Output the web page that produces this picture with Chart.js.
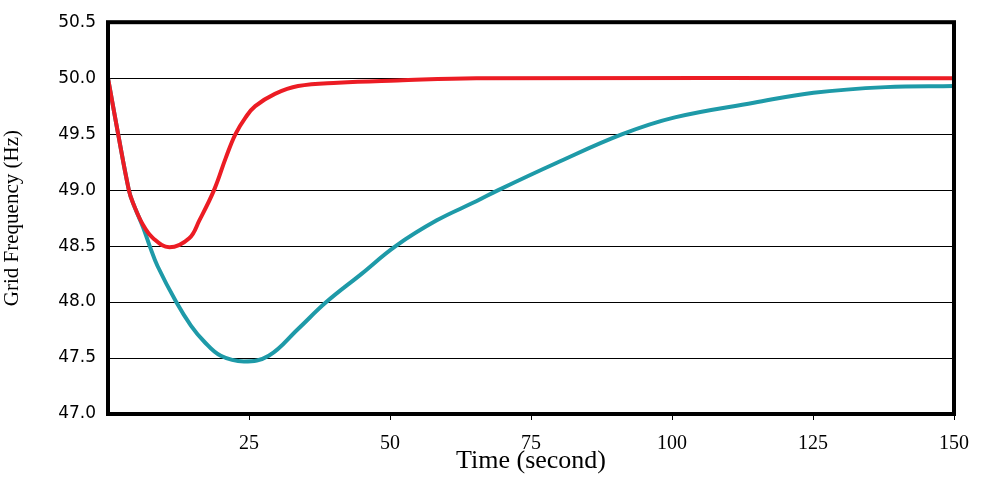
<!DOCTYPE html>
<html lang="en">
<head>
  <meta charset="UTF-8">
  <title>Grid Frequency</title>
  <script src="https://cdn.jsdelivr.net/npm/chart.js"></script>
  <style>
    html, body { margin: 0; padding: 0; background: #fff; }
    #wrap { width: 981px; height: 477px; }
  </style>
</head>
<body>
  <div id="wrap">
    <canvas id="freqChart" width="981" height="477"></canvas>
  </div>

  <script>
    // red curve (fast recovery)
    const fastTime = [0, 1.8, 3.7, 4.4, 6.2, 8.0, 10.9, 14.4, 16.2, 18.8, 20.9, 22.6, 24.4, 26.1, 29.6, 33.7, 40.8, 51.3, 65.3, 150];
    const fastFreq = [50.0, 49.5, 49.0, 48.89, 48.69, 48.57, 48.49, 48.57, 48.73, 49.0, 49.29, 49.5, 49.65, 49.75, 49.86, 49.93, 49.96, 49.98, 50.0, 50.0];

    // teal curve (slow recovery)
    const slowTime = [0, 1.8, 3.7, 4.4, 6.2, 7.4, 8.8, 12.1, 14.7, 17.0, 20.0, 24.1, 28.5, 33.7, 38.7, 44.9, 51.0, 58.3, 65.3, 69.2, 79.4, 91.2, 100.5, 114.5, 125.1, 137.9, 150];
    const slowFreq = [50.0, 49.5, 49.0, 48.89, 48.67, 48.5, 48.32, 48.0, 47.79, 47.65, 47.52, 47.47, 47.52, 47.76, 48.0, 48.25, 48.5, 48.73, 48.9, 49.0, 49.24, 49.5, 49.65, 49.78, 49.87, 49.92, 49.93];

    const xTicks = [25, 50, 75, 100, 125, 150];

    function toPoints(xs, ys) {
      return xs.map((x, i) => ({ x: x, y: ys[i] }));
    }

    // thick black frame round the plot area
    const frame = {
      id: 'frame',
      afterDraw(chart) {
        const a = chart.chartArea;
        const ctx = chart.ctx;
        ctx.save();
        ctx.strokeStyle = '#000';
        ctx.lineWidth = 4;
        ctx.strokeRect(a.left, a.top, a.right - a.left, a.bottom - a.top);
        ctx.restore();
      }
    };

    new Chart(document.getElementById('freqChart'), {
      type: 'line',
      data: {
        datasets: [
          {
            label: 'fast',
            data: toPoints(fastTime, fastFreq),
            borderColor: '#ec1c24',
            borderWidth: 4,
            pointRadius: 0,
            tension: 0.4
          },
          {
            label: 'slow',
            data: toPoints(slowTime, slowFreq),
            borderColor: '#1e9aa8',
            borderWidth: 4,
            pointRadius: 0,
            tension: 0.4
          }
        ]
      },
      options: {
        responsive: false,
        animation: false,
        layout: { padding: { top: 20, right: 19, left: 0, bottom: 0 } },
        plugins: {
          legend: { display: false },
          tooltip: { enabled: false }
        },
        scales: {
          x: {
            type: 'linear',
            min: 0,
            max: 150,
            afterBuildTicks: (s) => { s.ticks = xTicks.map(v => ({ value: v })); },
            afterFit: (s) => { s.height = 63; },
            grid: { drawOnChartArea: false, color: '#000', tickLength: 6 },
            border: { display: false },
            ticks: {
              color: '#000',
              padding: 12,
              maxRotation: 0,
              font: { family: '"Liberation Serif", serif', size: 20 }
            },
            title: {
              display: true,
              text: 'Time (second)',
              color: '#000',
              padding: { top: 0, bottom: 0 },
              font: { family: '"Liberation Serif", serif', size: 26 }
            }
          },
          y: {
            min: 47,
            max: 50.5,
            afterFit: (s) => { s.width = 108; },
            grid: { color: '#000', lineWidth: 1, drawTicks: false },
            border: { display: false },
            ticks: {
              stepSize: 0.5,
              color: '#000',
              padding: 12,
              callback: (v) => v.toFixed(1),
              font: { family: '"DejaVu Sans", sans-serif', size: 17 }
            },
            title: {
              display: true,
              text: 'Grid Frequency (Hz)',
              color: '#000',
              padding: { top: 0, bottom: 2 },
              font: { family: '"Liberation Serif", serif', size: 21 }
            }
          }
        }
      },
      plugins: [frame]
    });
  </script>
</body>
</html>
